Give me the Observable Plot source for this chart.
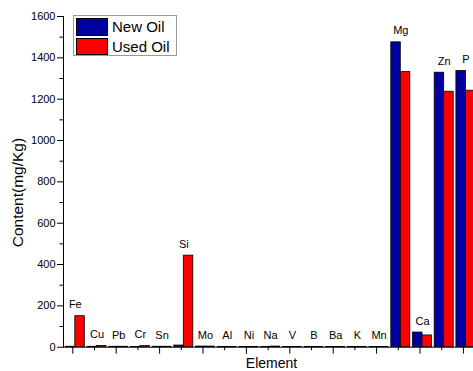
<!DOCTYPE html>
<html>
<head>
<meta charset="utf-8">
<script src="https://cdn.jsdelivr.net/npm/d3@7"></script>
<script src="https://cdn.jsdelivr.net/npm/@observablehq/plot@0.6"></script>
<style>
  body { margin: 0; background: #fff; }
  #chart { position: relative; width: 473px; height: 371px; overflow: hidden; font-family: "Liberation Sans", Arial, sans-serif; }
  .legend { position: absolute; left: 73px; top: 15px; width: 102px; height: 39px; border: 1px solid #999; background: #fff; }
  .sw { position: absolute; left: 2px; width: 32px; height: 16px; border: 1px solid #000; box-sizing: border-box; }
  .lt { position: absolute; left: 38px; font-size: 15px; line-height: 17px; color: #000; }
</style>
</head>
<body>
<div id="chart"></div>
<script>
const elements = ["Fe","Cu","Pb","Cr","Sn","Si","Mo","Al","Ni","Na","V","B","Ba","K","Mn","Mg","Ca","Zn","P"];
const newOil  = [2, 2, 2, 1, 2, 8, 3, 1, 1, 1, 1, 1, 1, 1, 1, 1475, 71, 1328, 1336];
const usedOil = [150, 6, 2, 5, 2, 443, 3, 1, 1, 3, 1, 1, 1, 1, 1, 1331, 57, 1236, 1241];
const seriesNames = ["New Oil", "Used Oil"];
const seriesColors = ["#0000a0", "#ff0000"];
const yMajor = [0, 200, 400, 600, 800, 1000, 1200, 1400, 1600];
const yMinor = [100, 300, 500, 700, 900, 1100, 1300, 1500];
const xMajor = elements.filter((d, i) => i % 2 === 0);
const xMinor = elements.filter((d, i) => i % 2 === 1);
const yTitle = "Content(mg/Kg)";
const xTitle = "Element";

const table = elements.map((e, i) => ({element: e, newOil: newOil[i], usedOil: usedOil[i]}));

const bandStart = 63.95, bandW = 21.7;
const half = bandW / 2;

const plot = Plot.plot({
  width: 473,
  height: 371,
  marginLeft: 63,
  marginRight: 0,
  marginTop: 16,
  marginBottom: 24.3,
  style: {fontFamily: "Liberation Sans, Arial, sans-serif", fontSize: "11px", color: "#000", background: "#fff", overflow: "visible"},
  x: {type: "band", domain: elements, range: [bandStart, bandStart + elements.length * bandW], padding: 0, round: false},
  y: {domain: [0, 1600]},
  marks: [
    Plot.barY(table, {x: "element", y: "newOil", fill: seriesColors[0], stroke: "#000", strokeWidth: 0.8, insetLeft: half - 9.5, insetRight: half}),
    Plot.barY(table, {x: "element", y: "usedOil", fill: seriesColors[1], stroke: "#000", strokeWidth: 0.8, insetLeft: half, insetRight: half - 9.5}),
    Plot.text(table, {x: "element", y: d => Math.max(d.newOil, d.usedOil), text: "element", lineAnchor: "bottom", dy: -8, fontSize: 11, fill: "#000"}),
    Plot.ruleY([0], {stroke: "#000", strokeWidth: 1}),
    Plot.frame({anchor: "left", stroke: "#000"}),
    Plot.axisY({ticks: yMajor, tickSize: 6, tickPadding: 2, fontSize: 11, tickFormat: d => String(d), label: null}),
    Plot.axisY({ticks: yMinor, tickSize: 3.5, tickFormat: () => "", label: null}),
    Plot.axisX({ticks: xMajor, tickSize: 7, tickFormat: () => "", dx: -2.5, label: null}),
    Plot.axisX({ticks: xMinor, tickSize: 3.5, tickFormat: () => "", dx: -2.5, label: null}),
    Plot.text([yTitle], {text: d => d, frameAnchor: "left", textAnchor: "middle", rotate: -90, dx: -45, dy: 10.7, fontSize: 15.5, fill: "#000"}),
    Plot.text([xTitle], {text: d => d, frameAnchor: "bottom", lineAnchor: "bottom", dx: 3, dy: 21, fontSize: 14, fill: "#000"})
  ]
});

const chart = document.getElementById("chart");
chart.appendChild(plot);

const legend = document.createElement("div");
legend.className = "legend";
seriesNames.forEach((name, i) => {
  const sw = document.createElement("div");
  sw.className = "sw";
  sw.style.top = (2 + i * 20) + "px";
  sw.style.height = (i === 0 ? 18 : 17) + "px";
  sw.style.background = seriesColors[i];
  legend.appendChild(sw);
  const t = document.createElement("div");
  t.className = "lt";
  t.style.top = (2 + i * 20) + "px";
  t.textContent = name;
  legend.appendChild(t);
});
chart.appendChild(legend);
</script>
</body>
</html>
